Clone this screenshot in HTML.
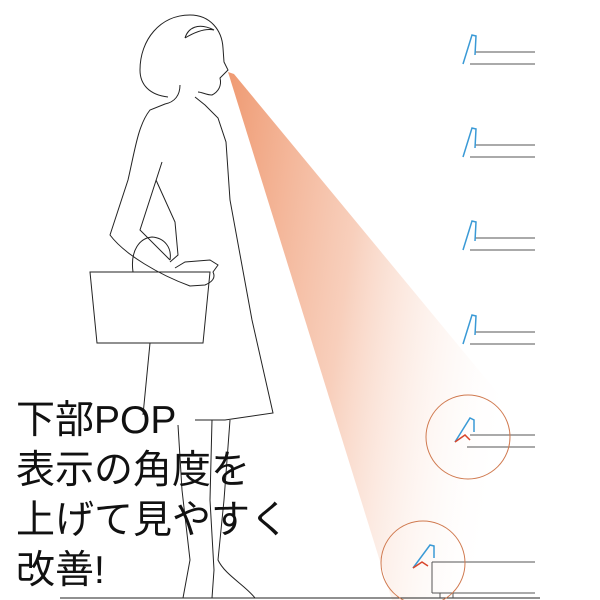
<!DOCTYPE html>
<html><head><meta charset="utf-8"><style>
html,body{margin:0;padding:0;background:#fff;}
#c{position:relative;width:600px;height:600px;overflow:hidden;}
svg{position:absolute;left:0;top:0;}
.t{position:absolute;left:16px;top:396px;font-family:"Liberation Sans","Noto Sans CJK JP",sans-serif;font-size:39px;line-height:50px;color:#111;white-space:nowrap;}
</style></head><body><div id="c">
<svg width="600" height="600" viewBox="0 0 600 600">
<defs>
<linearGradient id="g" x1="0" y1="0" x2="1" y2="0.25" gradientUnits="objectBoundingBox">
<stop offset="0" stop-color="#ef9a72"/>
<stop offset="0.45" stop-color="#f6c3ab" stop-opacity="0.8"/>
<stop offset="1" stop-color="#fff" stop-opacity="0"/>
</linearGradient>
</defs>
<polygon points="228,72 234,74 520,420 540,600 392,600" fill="url(#g)"/>
<g fill="none" stroke="#222" stroke-width="1">
<path d="M168,97 C150,95 140,85 140,70 C140,40 160,15 190,15 C210,15 222,30 223,48 L224,62 L228,70 L220,78 C222,86 218,92 212,95 C206,95 202,92 198,92"/>
<path d="M185,38 C188,28 198,22 214,30 C205,28 195,32 185,38"/>
<path d="M180,85 C180,95 175,102 165,104 L150,110 C138,125 135,150 128,180 L110,235 C125,255 160,275 190,286 L205,285 C212,282 216,278 213,272 L218,265 L210,260 L185,262 L175,268"/>
<path d="M195,97 L205,105 L218,118 L226,142 L230,200 L252,320 L273,413 L225,420 L195,420"/>
<path d="M162,162 L140,230 L170,260"/>
<path d="M156,180 L175,222 L178,255 L170,262"/>
<path d="M133,272 C130,250 140,238 152,237 C165,238 172,248 170,260"/>
<path d="M90,272 L210,272 L203,343 L97,343 Z"/>
<path d="M150,343 L143,415"/>
<path d="M178,425 L182,490 L190,560 L183,598"/>
<path d="M212,420 L210,500 L214,570 L212,598"/>
<path d="M230,420 L224,500 L218,560 C225,575 245,585 255,598"/>
<path d="M60,598 H540"/>
</g>
<g fill="none" stroke="#555" stroke-width="1">
<path d="M475,52 H535 M470,64 H535"/>
<path d="M475,145 H535 M470,157 H535"/>
<path d="M475,238 H535 M470,250 H535"/>
<path d="M475,332 H535 M470,344 H535"/>
<path d="M470,435 H535 M467,447 H535"/>
<path d="M432,562 H535 M432,562 V593 M440,593 V598 M453,593 V598 M432,593 H535"/>
</g>
<g fill="none" stroke="#3a9ad6" stroke-width="1.5">
<path d="M463,64 L472,35 L476,36 L475,55"/>
<path d="M463,157 L472,128 L476,129 L475,148"/>
<path d="M463,250 L472,221 L476,222 L475,241"/>
<path d="M463,344 L472,315 L476,316 L475,335"/>
<path d="M455,442 L470,418 L474,420 L474,432"/>
<path d="M413,568 L430,545 L434,546 L434,558"/>
</g>
<g fill="none" stroke="#d8462b" stroke-width="1.5">
<path d="M455,442 L465,435 L470,440"/>
<path d="M413,568 L422,562 L428,566"/>
</g>
<g fill="none" stroke="#d07a50" stroke-width="1">
<circle cx="468" cy="437" r="42"/>
<circle cx="423" cy="563" r="42"/>
</g>
</svg>
<div class="t">下部POP<br>表示の角度を<br>上げて見やすく<br>改善!</div>
</div></body></html>
